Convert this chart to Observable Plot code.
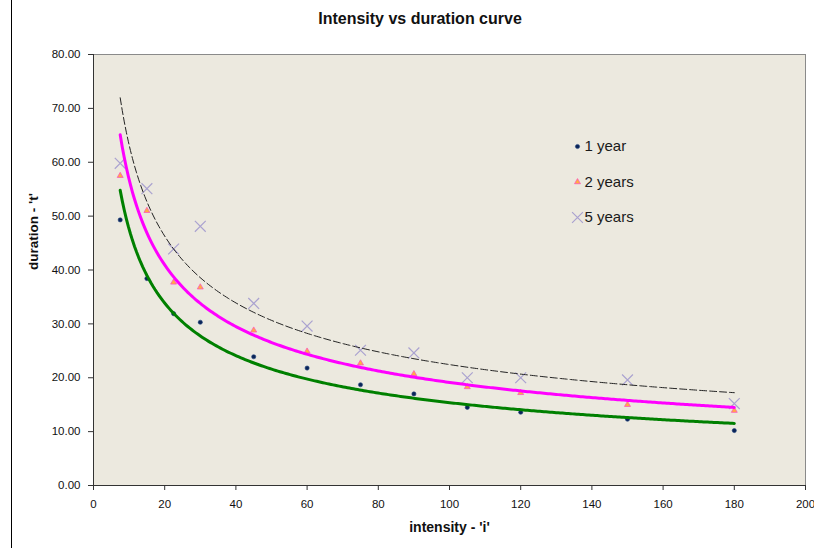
<!DOCTYPE html>
<html>
<head>
<meta charset="utf-8">
<script src="https://cdn.jsdelivr.net/npm/d3@7"></script>
<script src="https://cdn.jsdelivr.net/npm/@observablehq/plot@0.6"></script>
<style>
  body { margin: 0; background: #fff; }
  #wrap { position: relative; width: 814px; height: 548px; font-family: "Liberation Sans", Arial, sans-serif; color: #1a1a1a; }
  #edge { position: absolute; left: 11px; top: 0; width: 1px; height: 548px; background: #000; }
  #title { box-sizing: border-box; width: 814px; height: 40px; line-height: 38px; padding-left: 26px; text-align: center; font-weight: bold; font-size: 16px; color: #111; }
  #chart svg { display: block; }
</style>
</head>
<body>
<div id="wrap">
  <div id="edge"></div>
  <div id="title">Intensity vs duration curve</div>
  <div id="chart"></div>
</div>
<script>
// ---- data ----
const intensity = [7.5, 15, 22.5, 30, 45, 60, 75, 90, 105, 120, 150, 180];
const year1 = [49.3, 38.4, 31.9, 30.3, 23.9, 21.8, 18.7, 17.0, 14.5, 13.6, 12.3, 10.2];
const year2 = [57.5, 51.0, 37.7, 36.8, 28.8, 24.9, 22.7, 20.7, 18.3, 17.2, 15.0, 13.9];
const year5 = [59.8, 55.1, 43.9, 48.1, 33.8, 29.6, 25.1, 24.6, 20.0, 20.0, 19.6, 15.2];
const seriesNames = ["1 year", "2 years", "5 years"];
const xTicks = [0, 20, 40, 60, 80, 100, 120, 140, 160, 180, 200];
const yTicks = [0, 10, 20, 30, 40, 50, 60, 70, 80];

const seriesValues = [year1, year2, year5];
const markerStyle = [
  {symbol: "circle", r: 2.1, fill: "#0b2458", stroke: "#23477f", strokeWidth: 0.6},
  {symbol: "triangle", r: 2.2, fill: "#ffb040", stroke: "#ff55bb", strokeWidth: 0.8},
  {symbol: "times", r: 5, fill: "none", stroke: "#aaa2d0", strokeWidth: 1.2}
];
const lineStyle = [
  {stroke: "#008000", strokeWidth: 3},
  {stroke: "#ff00ff", strokeWidth: 3},
  {stroke: "#222222", strokeWidth: 1, strokeDasharray: "7,3"}
];

// Power trendline (least squares on log-log), as in the spreadsheet
function powerFit(xs, ys) {
  const lx = xs.map(Math.log), ly = ys.map(Math.log);
  const mx = d3.mean(lx), my = d3.mean(ly);
  const b = d3.sum(lx, (v, i) => (v - mx) * (ly[i] - my)) / d3.sum(lx, v => (v - mx) ** 2);
  const a = Math.exp(my - b * mx);
  return x => a * Math.pow(x, b);
}
const [xmin, xmax] = d3.extent(intensity);
const xs = d3.range(0, 301).map(i => xmin + (xmax - xmin) * i / 300);

const points = seriesNames.map((s, k) => intensity.map((x, i) => ({series: s, x, y: seriesValues[k][i]})));
const curves = seriesNames.map((s, k) => {
  const f = powerFit(intensity, seriesValues[k]);
  return xs.map(x => ({series: s, x, y: f(x)}));
});

const marks = [
  Plot.frame({fill: "#ECE9DF", stroke: "#8a8a8a"}),
  ...points.map((p, k) => Plot.dot(p, {x: "x", y: "y", ...markerStyle[k]})),
  ...[2, 1, 0].map(k => Plot.line(curves[k], {x: "x", y: "y", ...lineStyle[k]})),
  Plot.ruleX([0], {stroke: "#333"}),
  Plot.ruleY([0], {stroke: "#333"}),
  Plot.axisY({ticks: yTicks, tickFormat: d3.format(".2f"), tickSize: 5, tickPadding: 8, fontSize: 11.5, label: null, stroke: "#333", fill: "#111"}),
  Plot.axisX({ticks: xTicks, tickFormat: d3.format("d"), tickSize: 5, tickPadding: 9, fontSize: 11.5, label: null, stroke: "#333", fill: "#111"}),
  Plot.text(["duration - 't'"], {frameAnchor: "left", dx: -60, rotate: -90, fontWeight: "bold", fontSize: 13.5, fill: "#111"}),
  Plot.text(["intensity - 'i'"], {frameAnchor: "bottom", dy: 42, fontWeight: "bold", fontSize: 14, fill: "#111", lineAnchor: "middle"}),
  // legend
  ...seriesNames.flatMap((s, k) => [
    Plot.dot([s], {frameAnchor: "top-left", dx: 484, dy: 92 + k * 35.5, ...markerStyle[k]}),
    Plot.text([s], {frameAnchor: "top-left", dx: 491, dy: 92 + k * 35.5, text: d => d, textAnchor: "start", lineAnchor: "middle", fontSize: 15, fill: "#1a1a1a"})
  ])
];

const chart = Plot.plot({
  width: 814,
  height: 508,
  marginTop: 14,
  marginBottom: 63,
  marginLeft: 93,
  marginRight: 9,
  style: {fontFamily: "'Liberation Sans', Arial, sans-serif", color: "#1a1a1a", background: "transparent", overflow: "visible"},
  x: {domain: [0, 200]},
  y: {domain: [0, 80]},
  marks
});
document.getElementById("chart").appendChild(chart);
</script>
</body>
</html>
